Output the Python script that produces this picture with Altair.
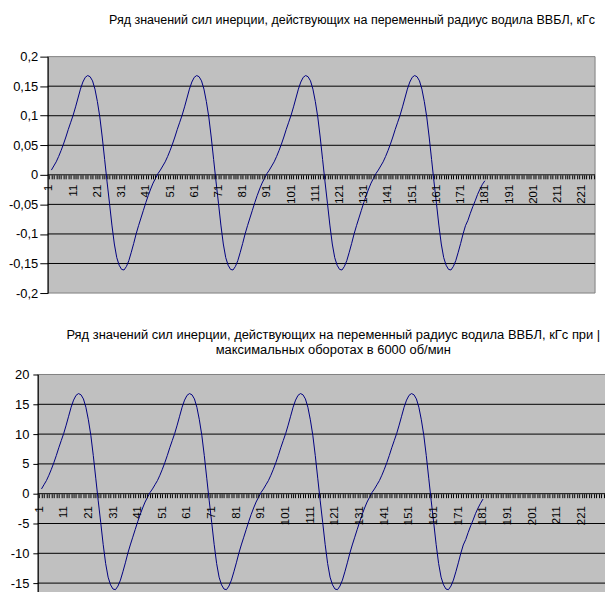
import altair as alt
import pandas as pd

# ---------------- data ----------------
title_1 = "Ряд значений сил инерции, действующих на переменный радиус водила ВВБЛ, кГс"
title_2 = [
    "Ряд значений сил инерции, действующих на переменный радиус водила ВВБЛ, кГс при |",
    "максимальных оборотах в 6000 об/мин",
]

first_category = 2  # the series begins at category 2

force_kgf = [
    0.008, 0.015, 0.022, 0.031, 0.041, 0.052, 0.064, 0.077, 0.089, 0.101,
    0.115, 0.130, 0.145, 0.157, 0.165, 0.168, 0.166, 0.159, 0.145, 0.124,
    0.098, 0.064, 0.026, -0.012, -0.048, -0.085, -0.117, -0.140, -0.153, -0.160,
    -0.161, -0.155, -0.145, -0.131, -0.116, -0.100, -0.086, -0.073, -0.060, -0.047,
    -0.035, -0.024, -0.014, -0.006, 0.002,
    0.008, 0.015, 0.022, 0.031, 0.041, 0.052, 0.064, 0.077, 0.089, 0.101,
    0.115, 0.130, 0.145, 0.157, 0.165, 0.168, 0.166, 0.159, 0.145, 0.124,
    0.098, 0.064, 0.026, -0.012, -0.048, -0.085, -0.117, -0.140, -0.153, -0.160,
    -0.161, -0.155, -0.145, -0.131, -0.116, -0.100, -0.086, -0.073, -0.060, -0.047,
    -0.035, -0.024, -0.014, -0.006, 0.002,
    0.008, 0.015, 0.022, 0.031, 0.041, 0.052, 0.064, 0.077, 0.089, 0.101,
    0.115, 0.130, 0.145, 0.157, 0.165, 0.168, 0.166, 0.159, 0.145, 0.124,
    0.098, 0.064, 0.026, -0.012, -0.048, -0.085, -0.117, -0.140, -0.153, -0.160,
    -0.161, -0.155, -0.145, -0.131, -0.116, -0.100, -0.086, -0.073, -0.060, -0.047,
    -0.035, -0.024, -0.014, -0.006, 0.002,
    0.008, 0.015, 0.022, 0.031, 0.041, 0.052, 0.064, 0.077, 0.089, 0.101,
    0.115, 0.130, 0.145, 0.157, 0.165, 0.168, 0.166, 0.159, 0.145, 0.124,
    0.098, 0.064, 0.026, -0.012, -0.048, -0.085, -0.117, -0.140, -0.153, -0.160,
    -0.161, -0.155, -0.145, -0.131, -0.116, -0.100, -0.086, -0.077, -0.065, -0.054,
    -0.044, -0.033, -0.024, -0.016, -0.010,
]

force_max_kgf = [
    0.8, 1.5, 2.2, 3.1, 4.1, 5.2, 6.4, 7.7, 8.9, 10.1,
    11.5, 13.0, 14.5, 15.7, 16.5, 16.8, 16.6, 15.9, 14.5, 12.4,
    9.8, 6.4, 2.6, -1.2, -4.8, -8.5, -11.7, -14.0, -15.3, -16.0,
    -16.1, -15.5, -14.5, -13.1, -11.6, -10.0, -8.6, -7.3, -6.0, -4.7,
    -3.5, -2.4, -1.4, -0.6, 0.2,
    0.8, 1.5, 2.2, 3.1, 4.1, 5.2, 6.4, 7.7, 8.9, 10.1,
    11.5, 13.0, 14.5, 15.7, 16.5, 16.8, 16.6, 15.9, 14.5, 12.4,
    9.8, 6.4, 2.6, -1.2, -4.8, -8.5, -11.7, -14.0, -15.3, -16.0,
    -16.1, -15.5, -14.5, -13.1, -11.6, -10.0, -8.6, -7.3, -6.0, -4.7,
    -3.5, -2.4, -1.4, -0.6, 0.2,
    0.8, 1.5, 2.2, 3.1, 4.1, 5.2, 6.4, 7.7, 8.9, 10.1,
    11.5, 13.0, 14.5, 15.7, 16.5, 16.8, 16.6, 15.9, 14.5, 12.4,
    9.8, 6.4, 2.6, -1.2, -4.8, -8.5, -11.7, -14.0, -15.3, -16.0,
    -16.1, -15.5, -14.5, -13.1, -11.6, -10.0, -8.6, -7.3, -6.0, -4.7,
    -3.5, -2.4, -1.4, -0.6, 0.2,
    0.8, 1.5, 2.2, 3.1, 4.1, 5.2, 6.4, 7.7, 8.9, 10.1,
    11.5, 13.0, 14.5, 15.7, 16.5, 16.8, 16.6, 15.9, 14.5, 12.4,
    9.8, 6.4, 2.6, -1.2, -4.8, -8.5, -11.7, -14.0, -15.3, -16.0,
    -16.1, -15.5, -14.5, -13.1, -11.6, -10.0, -8.6, -7.7, -6.5, -5.4,
    -4.4, -3.3, -2.4, -1.6, -0.9,
]

categories_1 = 226          # number of categories on the first axis
categories_2 = 236          # second axis (runs past the right edge)
label_every = 10            # category labels 1, 11, 21, ...
last_label_1 = 221
last_label_2 = 221          # 231 would fall on the cut edge

y_ticks_1 = [-0.2, -0.15, -0.1, -0.05, 0, 0.05, 0.1, 0.15, 0.2]
y_ticks_2 = [-20, -15, -10, -5, 0, 5, 10, 15, 20]
hidden_label_2 = -20        # below the visible edge of the picture

# ---------------- chart ----------------
FONT = "Liberation Sans"
PLOT_FILL = "#C0C0C0"
BORDER = "#808080"
LINE = "#000080"


def panel(values, ncat, step, yticks, height, strip, title, title_size, title_dx,
          title_offset, ylabel_expr, ytick_size, ylabel_pad, x_label_pad, last_label,
          lh=None):
    lo_x = 0.5 - strip / step
    hi_x = ncat + 0.5
    width = (hi_x - lo_x) * step
    lo_y, hi_y = yticks[0], yticks[-1]

    xs = alt.Scale(domain=[lo_x, hi_x], nice=False, zero=False)
    ys = alt.Scale(domain=[lo_y, hi_y], nice=False, zero=False)

    x_axis = alt.Axis(
        values=list(range(1, ncat + 1)),
        labelExpr=(f"((datum.value - 1) % {label_every} == 0 && datum.value <= {last_label})"
                   " ? toString(datum.value) : ''"),
        labelAngle=270,
        labelOverlap=False,
        labelFlush=False,
        grid=False,
        domain=False,
        tickColor="black",
        tickSize=4,
        tickWidth=1,
        labelPadding=x_label_pad,
        labelFont=FONT,
        labelFontSize=11.5,
        labelColor="black",
        offset=-height / 2,
        zindex=2,
        title=None,
    )
    y_axis = alt.Axis(
        values=yticks,
        labelExpr=ylabel_expr,
        grid=False,
        domainColor="black",
        domainWidth=1,
        tickColor="black",
        tickSize=ytick_size,
        labelPadding=ylabel_pad,
        labelFont=FONT,
        labelFontSize=13,
        labelColor="black",
        offset=-strip,
        zindex=2,
        title=None,
    )
    xe = alt.X("n:Q", scale=xs, axis=x_axis)
    ye = alt.Y("v:Q", scale=ys, axis=y_axis)

    line_df = pd.DataFrame({
        "n": list(range(first_category, first_category + len(values))),
        "v": values,
    })
    bg_df = pd.DataFrame({"n": [0.5], "n2": [hi_x], "v": [lo_y], "v2": [hi_y]})
    grid_df = pd.DataFrame({"n": 0.5, "n2": hi_x, "v": yticks[1:-1]})

    bg = alt.Chart(bg_df).mark_rect(fill=PLOT_FILL, stroke=BORDER, strokeWidth=1).encode(
        x=xe, x2="n2:Q", y=ye, y2="v2:Q",
    )
    grid = alt.Chart(grid_df).mark_rule(color="black", strokeWidth=1).encode(
        x=xe, x2="n2:Q", y=ye,
    )
    line = alt.Chart(line_df).mark_line(color=LINE, strokeWidth=1).encode(
        x=xe, y=ye,
    )

    tparams = dict(
        text=title,
        font=FONT,
        fontSize=title_size,
        fontWeight="normal",
        color="black",
        anchor="middle",
        frame="group",
        baseline="alphabetic",
        dx=title_dx,
        offset=title_offset,
    )
    if lh is not None:
        tparams["lineHeight"] = lh
    return alt.layer(bg, grid, line).properties(
        width=width, height=height, title=alt.TitleParams(**tparams)
    )


top = panel(force_kgf, categories_1, 2.438, y_ticks_1, 238, 10, title_1, 12.6, 35.8, 14,
            "replace(toString(datum.value), '.', ',')", 8, 2, 5.5, last_label_1)
bottom = panel(force_max_kgf, categories_2, 2.483, y_ticks_2, 240, 0, title_2, 13.0, 4.5, 2,
               f"datum.value == {hidden_label_2} ? '' : toString(datum.value)",
               5, 4, 8, last_label_2, lh=15)

chart = (
    alt.vconcat(top, bottom, spacing=29)
    .properties(padding={"left": 0, "top": 4, "right": -20, "bottom": -24.5})
    .configure_view(strokeWidth=0)
)

chart.save("out.html", embed_options={"renderer": "svg", "actions": False})
